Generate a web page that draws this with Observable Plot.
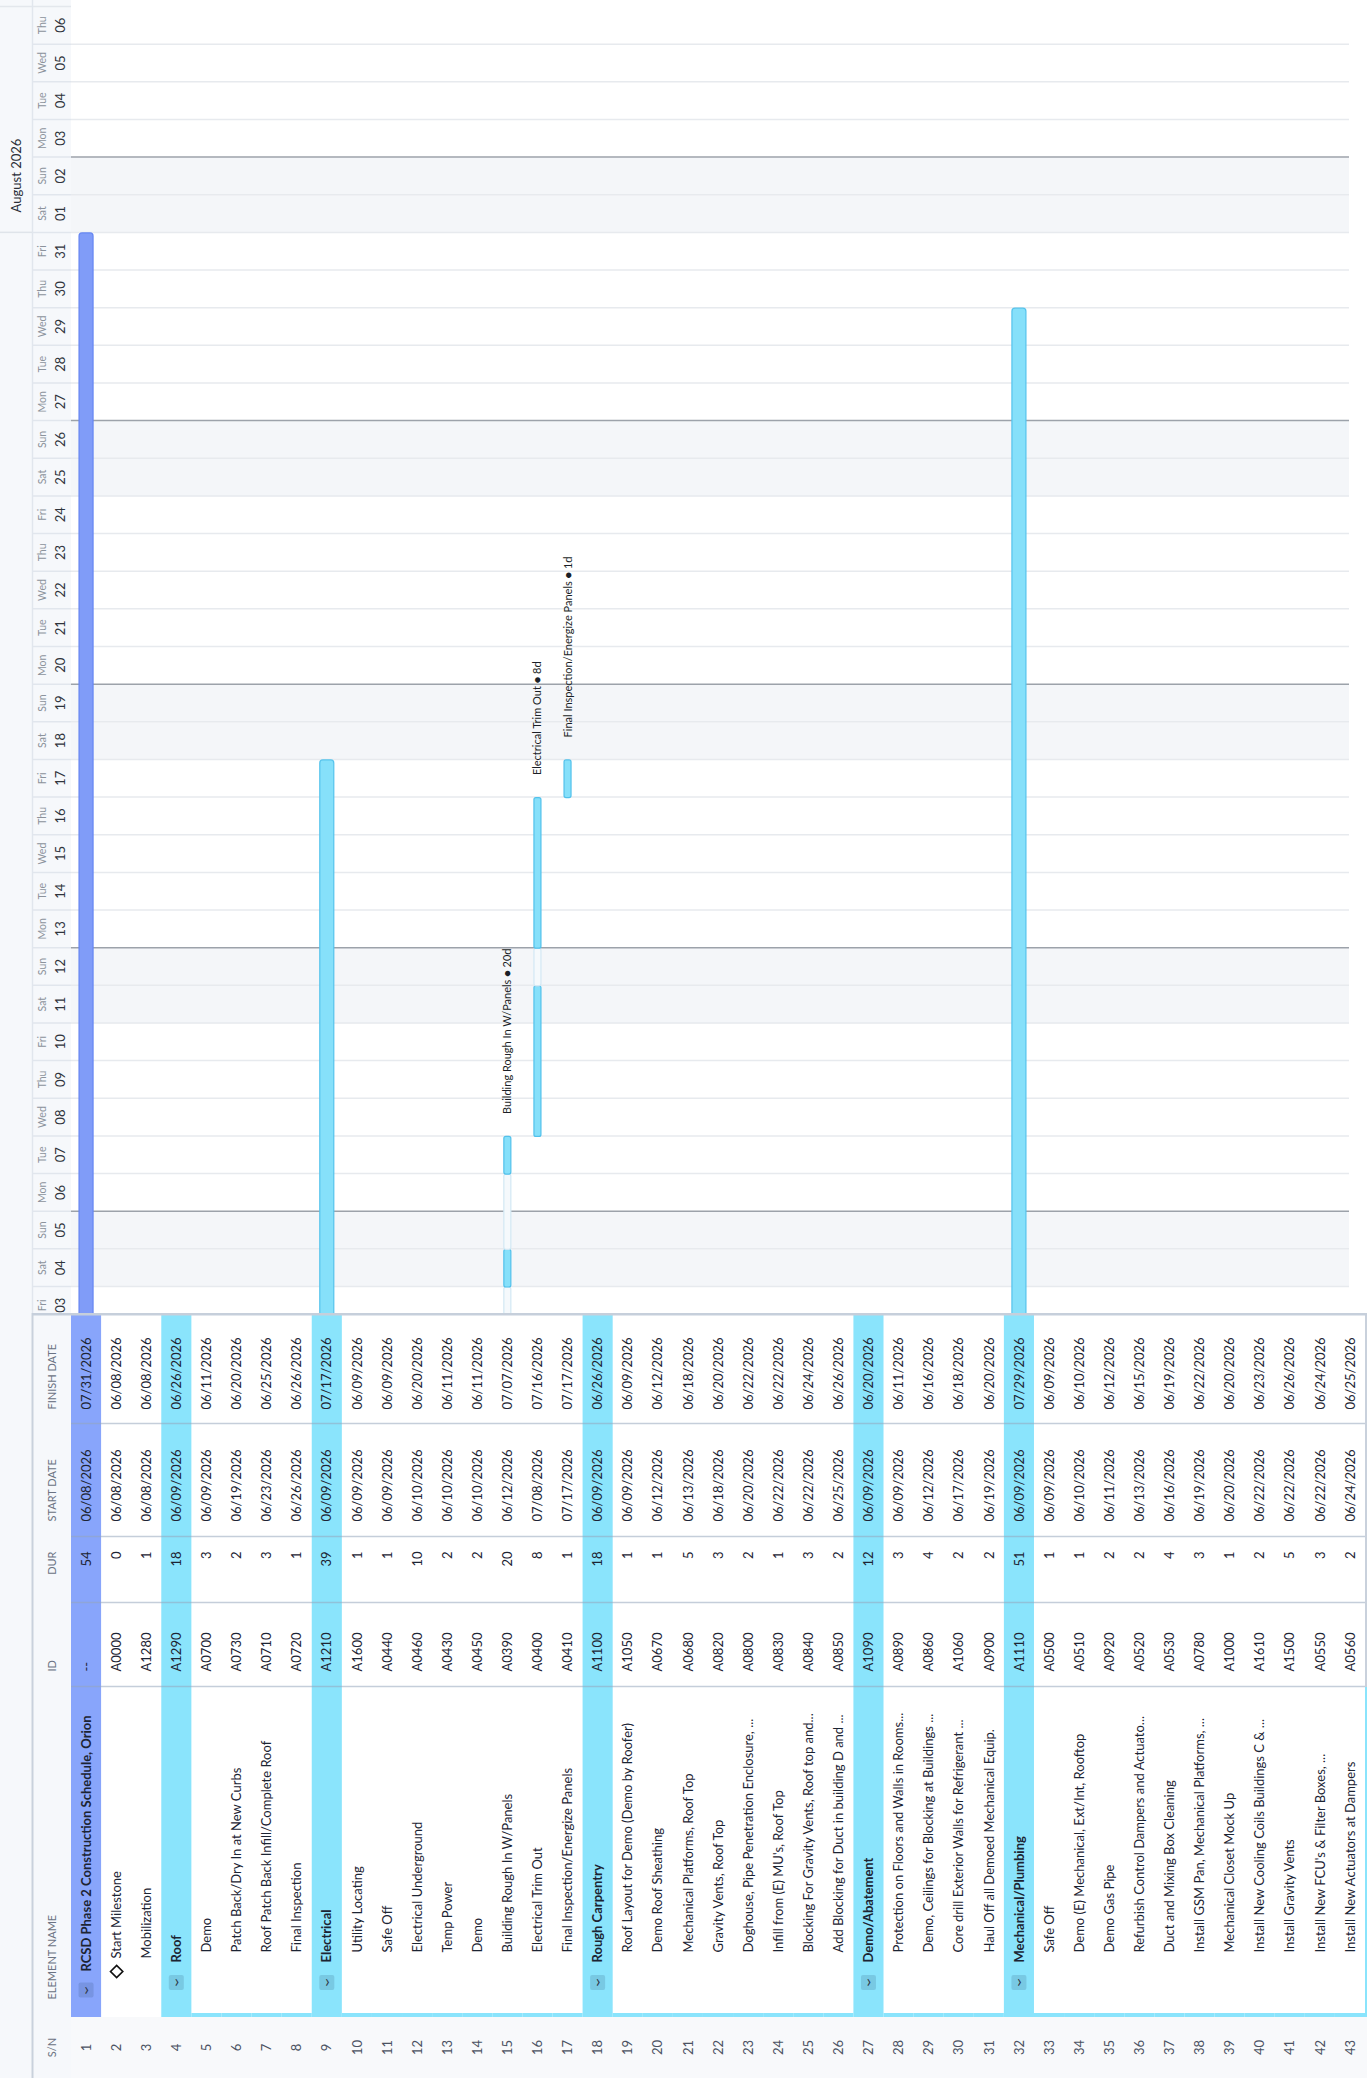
<!DOCTYPE html>
<html><head><meta charset="utf-8">
<script src="https://cdn.jsdelivr.net/npm/d3@7"></script>
<script src="https://cdn.jsdelivr.net/npm/@observablehq/plot@0.6"></script>
<style>
html,body{margin:0;padding:0;background:#fff;overflow:hidden;width:1367px;height:2078px;}
#stage{position:absolute;left:0;top:0;width:2078px;height:1367px;transform-origin:0 0;transform:translateY(2078px) rotate(-90deg);display:flex;font-family:Lato,sans-serif;}
#stage svg{display:block;flex:none;}
</style></head><body><div id="stage"></div>
<script>
// ---------------- data ----------------
const sn = d3.range(1, 44);
const names = [
  "RCSD Phase 2 Construction Schedule, Orion", "Start Milestone", "Mobilization",
  "Roof", "Demo", "Patch Back/Dry In at New Curbs", "Roof Patch Back Infill/Complete Roof", "Final Inspection",
  "Electrical", "Utility Locating", "Safe Off", "Electrical Underground", "Temp Power", "Demo",
  "Building Rough In W/Panels", "Electrical Trim Out", "Final Inspection/Energize Panels",
  "Rough Carpentry", "Roof Layout for Demo (Demo by Roofer)", "Demo Roof Sheathing", "Mechanical Platforms, Roof Top",
  "Gravity Vents, Roof Top", "Doghouse, Pipe Penetration Enclosure, ...", "Infill from (E) MU's, Roof Top",
  "Blocking For Gravity Vents, Roof top and...", "Add Blocking for Duct in building D and ...",
  "Demo/Abatement", "Protection on Floors and Walls in Rooms...", "Demo, Ceilings for Blocking at Buildings ...",
  "Core drill Exterior Walls for Refrigerant ...", "Haul Off all Demoed Mechanical Equip.",
  "Mechanical/Plumbing", "Safe Off", "Demo (E) Mechanical, Ext/Int, Rooftop", "Demo Gas Pipe",
  "Refurbish Control Dampers and Actuato...", "Duct and Mixing Box Cleaning", "Install GSM Pan, Mechanical Platforms, ...",
  "Mechanical Closet Mock Up", "Install New Cooling Coils Buildings C & ...", "Install Gravity Vents",
  "Install New FCU's & Filter Boxes, ...", "Install New Actuators at Dampers"
];
const ids = ["--","A0000","A1280","A1290","A0700","A0730","A0710","A0720","A1210","A1600","A0440","A0460","A0430","A0450","A0390","A0400","A0410","A1100","A1050","A0670","A0680","A0820","A0800","A0830","A0840","A0850","A1090","A0890","A0860","A1060","A0900","A1110","A0500","A0510","A0920","A0520","A0530","A0780","A1000","A1610","A1500","A0550","A0560"];
const durs = [54,0,1,18,3,2,3,1,39,1,1,10,2,2,20,8,1,18,1,1,5,3,2,1,3,2,12,3,4,2,2,51,1,1,2,2,4,3,1,2,5,3,2];
const starts = ["06/08/2026","06/08/2026","06/08/2026","06/09/2026","06/09/2026","06/19/2026","06/23/2026","06/26/2026","06/09/2026","06/09/2026","06/09/2026","06/10/2026","06/10/2026","06/10/2026","06/12/2026","07/08/2026","07/17/2026","06/09/2026","06/09/2026","06/12/2026","06/13/2026","06/18/2026","06/20/2026","06/22/2026","06/22/2026","06/25/2026","06/09/2026","06/09/2026","06/12/2026","06/17/2026","06/19/2026","06/09/2026","06/09/2026","06/10/2026","06/11/2026","06/13/2026","06/16/2026","06/19/2026","06/20/2026","06/22/2026","06/22/2026","06/22/2026","06/24/2026"];
const finishes = ["07/31/2026","06/08/2026","06/08/2026","06/26/2026","06/11/2026","06/20/2026","06/25/2026","06/26/2026","07/17/2026","06/09/2026","06/09/2026","06/20/2026","06/11/2026","06/11/2026","07/07/2026","07/16/2026","07/17/2026","06/26/2026","06/09/2026","06/12/2026","06/18/2026","06/20/2026","06/22/2026","06/22/2026","06/24/2026","06/26/2026","06/20/2026","06/11/2026","06/16/2026","06/18/2026","06/20/2026","07/29/2026","06/09/2026","06/10/2026","06/12/2026","06/15/2026","06/19/2026","06/22/2026","06/20/2026","06/23/2026","06/26/2026","06/24/2026","06/25/2026"];
// 0 = project, 1 = group, 2 = project task, 3 = group task
const levels = [0,2,2,1,3,3,3,3,1,3,3,3,3,3,3,3,3,1,3,3,3,3,3,3,3,3,1,3,3,3,3,1,3,3,3,3,3,3,3,3,3,3,3];
const offDays = ["2026-06-14","2026-06-21","2026-06-28","2026-07-03","2026-07-05","2026-07-06","2026-07-12","2026-07-19","2026-07-26","2026-08-02"];
const headers = ["S/N","ELEMENT NAME","ID","DUR","START DATE","FINISH DATE"];
const monthLabels = [{month: "2026-08-01", label: "August 2026"}];

// ---------------- layout ----------------
const W = 2078, H = 1367, TABLE_W = 765, HEADER_H = 71, MONTH_H = 32;
const N = sn.length, ROW_H = 1294 / N, DAY_W = 1280 / 34, DAY = 864e5;
const yDomain = [-HEADER_H / ROW_H, N];
const yRange = [0, HEADER_H + N * ROW_H];
const yPx = px => (px - HEADER_H) / ROW_H;
const BODY_END = yPx(1349);
const FONT = "Lato, 'Open Sans', sans-serif";
const ROOT_BG = "#88a5fb", GROUP_BG = "#8ae4fc";
const TEXT = "#1c2433";

const parse = s => { const [m, d, y] = s.split("/").map(Number); return new Date(Date.UTC(y, m - 1, d)); };
const rows = sn.map((n, i) => ({
  i, sn: n, name: names[i], id: ids[i], dur: durs[i],
  startStr: starts[i], finishStr: finishes[i],
  start: parse(starts[i]), finish: parse(finishes[i]), level: levels[i]
}));
const isGroup = r => r.level <= 1;

// ---------------- table ----------------
const col = {snMid: 30, nameStart: [106, 115, 119, 125], id: 406, durEnd: 526, start: 556, finish: 668, nameCol: 61, nameHead: 78};
const seps = [391, 475, 541, 654];
const headStart = [
  {t: headers[1], x: col.nameHead}, {t: headers[2], x: col.id},
  {t: headers[4], x: col.start}, {t: headers[5], x: col.finish}
];
const cy = r => r.i + 0.5;
const groupRows = rows.filter(isGroup);
const taskRows = rows.filter(r => !isGroup(r));
const groupChildren = rows.filter(r => r.level === 3);
const chevX = d => d.level === 0 ? 88 : 95.5;
const txt = {fontSize: 13, fill: TEXT, fontFamily: FONT};

const table = Plot.plot({
  width: TABLE_W, height: H, margin: 0,
  x: {type: "linear", domain: [0, TABLE_W], range: [0, TABLE_W], axis: null},
  y: {type: "linear", domain: yDomain, range: yRange, axis: null},
  style: {fontFamily: FONT, background: "#ffffff", maxWidth: "none", overflow: "visible"},
  marks: [
    Plot.rect([0], {x1: 0, x2: TABLE_W, y1: yDomain[0], y2: 0, fill: "#f6f8fb"}),
    Plot.rect([0], {x1: 0, x2: col.nameCol, y1: 0, y2: N + 0.1, fill: "#f8f9fb"}),
    Plot.rect(groupRows, {x1: col.nameCol, x2: TABLE_W, y1: d => d.i, y2: d => d.i + 1, fill: d => d.level === 0 ? ROOT_BG : GROUP_BG}),
    Plot.rect(groupChildren, {x1: col.nameCol, x2: col.nameCol + 4, y1: d => d.i, y2: d => d.i + 1, fill: GROUP_BG}),
    Plot.rect([0], {x1: col.nameCol, x2: seps[0], y1: N, y2: N + 2 / ROW_H, fill: GROUP_BG}),
    Plot.rect([0], {x1: seps[0], x2: TABLE_W, y1: N, y2: N + 2 / ROW_H, fill: "#c9d1dc"}),
    Plot.ruleX(seps, {x: d => d, y1: 0, y2: N, stroke: "rgba(150,166,188,0.55)", strokeWidth: 1.5}),
    Plot.ruleY([0], {y: yPx(MONTH_H), x1: 0, x2: TABLE_W, stroke: "#c9d1dc", strokeWidth: 2}),
    Plot.ruleX([0], {x: TABLE_W - 1.5, y1: yPx(MONTH_H), y2: N + 2 / ROW_H, stroke: "#c6cfdb", strokeWidth: 3}),
    // header labels
    Plot.text([headers[0]], {x: col.snMid, y: yPx(51.5), text: d => d, textAnchor: "middle", fontSize: 11, fill: "#6b7383", fontFamily: FONT}),
    Plot.text(headStart, {x: "x", y: yPx(51.5), text: "t", textAnchor: "start", fontSize: 11, fill: "#6b7383", fontFamily: FONT}),
    Plot.text([headers[3]], {x: col.durEnd, y: yPx(51.5), text: d => d, textAnchor: "end", fontSize: 11, fill: "#6b7383", fontFamily: FONT}),
    // chevron boxes
    Plot.rect(groupRows, {x1: d => chevX(d) - 7.5, x2: d => chevX(d) + 7.5,
      y1: d => cy(d) - 7.5 / ROW_H, y2: d => cy(d) + 7.5 / ROW_H, fill: "rgba(30,60,100,0.16)", rx: 2}),
    Plot.text(groupRows, {x: chevX, y: cy, text: () => "\u203A", rotate: 90, fontSize: 17, fill: "#2f3746", fontFamily: FONT}),
    // milestone diamond
    Plot.dot(rows.filter(d => d.dur === 0), {x: 106, y: cy, symbol: "diamond2", r: 5.5, stroke: "#111", strokeWidth: 1.7, fill: "none"}),
    // serial numbers
    Plot.text(rows, {x: col.snMid, y: cy, text: d => String(d.sn), textAnchor: "middle", fontSize: 13, fill: "#4b5262", fontFamily: FONT}),
    // names
    Plot.text(groupRows, {x: d => col.nameStart[d.level], y: cy, text: "name", textAnchor: "start", fontWeight: "bold", ...txt}),
    Plot.text(taskRows, {x: d => col.nameStart[d.level], y: cy, text: "name", textAnchor: "start", ...txt}),
    Plot.text(rows, {x: col.id, y: cy, text: "id", textAnchor: "start", ...txt}),
    Plot.text(rows, {x: col.durEnd, y: cy, text: d => String(d.dur), textAnchor: "end", ...txt}),
    Plot.text(rows, {x: col.start, y: cy, text: "startStr", textAnchor: "start", ...txt}),
    Plot.text(rows, {x: col.finish, y: cy, text: "finishStr", textAnchor: "start", ...txt})
  ]
});

// ---------------- timeline ----------------
const TL_W = W - TABLE_W, TL_R = TL_W - 7;
const t1 = new Date(Date.UTC(2026, 7, 7));
const t0 = new Date(+t1 - TL_R / DAY_W * DAY);
const tEnd = new Date(+t1 + 7 / DAY_W * DAY);
const days = d3.utcDay.range(d3.utcDay.floor(t0), t1);
const weekends = days.filter(d => d.getUTCDay() === 0 || d.getUTCDay() === 6);
const mondays = days.filter(d => d.getUTCDay() === 1);
const others = days.filter(d => d.getUTCDay() !== 1);
const offSet = new Set(offDays);
const iso = d3.utcFormat("%Y-%m-%d");
const next = d => new Date(+d + DAY);

// bar segments for leaf tasks (working / non-working days)
const leafSegs = [];
for (const r of rows) {
  if (isGroup(r) || r.dur === 0) continue;
  let cur = null;
  for (let d = r.start; d <= r.finish; d = next(d)) {
    const work = !offSet.has(iso(d));
    if (cur && cur.work === work) cur.x2 = next(d);
    else { cur = {row: r, work, x1: d, x2: next(d)}; leafSegs.push(cur); }
  }
}
const visible = leafSegs.filter(s => s.x2 > t0);
// labels only for tasks whose end lies in the visible time window
const labelled = rows.filter(r => !isGroup(r) && r.dur > 0 && next(r.finish) > t0);
const half = (r) => (r.level <= 1 ? 7 : 3.5) / ROW_H;

const timeline = Plot.plot({
  width: TL_W, height: H, margin: 0,
  x: {type: "utc", domain: [t0, t1], range: [0, TL_R], axis: null},
  y: {type: "linear", domain: yDomain, range: yRange, axis: null},
  style: {fontFamily: FONT, background: "#ffffff", maxWidth: "none", overflow: "hidden"},
  marks: [
    Plot.rect([0], {x1: t0, x2: tEnd, y1: yDomain[0], y2: 0, fill: "#f6f8fb"}),
    Plot.rect(weekends, {x1: d => d, x2: next, y1: 0, y2: BODY_END, fill: "#f4f6f9"}),
    Plot.ruleX(others, {x: d => d, y1: 0, y2: BODY_END, stroke: "#e7eaee", strokeWidth: 1.5}),
    Plot.ruleX(mondays, {x: d => d, y1: 0, y2: BODY_END, stroke: "#9ca2aa", strokeWidth: 1.5}),
    Plot.ruleX([t1], {x: d => d, y1: yDomain[0], y2: 0, stroke: "#e3e7ec", strokeWidth: 1.5}),
    // header grid
    Plot.ruleX(days, {x: d => d, y1: yPx(MONTH_H), y2: 0, stroke: "#e1e6ed", strokeWidth: 1.5}),
    Plot.ruleY([0], {y: yPx(MONTH_H), x1: t0, x2: tEnd, stroke: "#e1e6ed", strokeWidth: 1.5}),
    Plot.ruleX(monthLabels, {x: d => new Date(d.month), y1: yDomain[0], y2: yPx(MONTH_H), stroke: "#dfe4ea", strokeWidth: 1.5}),
    Plot.text(monthLabels, {x: d => new Date(d.month), y: yPx(16), text: "label", dx: 20, textAnchor: "start", fontSize: 13, fill: "#2a2f38", fontFamily: FONT}),
    Plot.text(days, {x: d => new Date(+d + DAY / 2), y: yPx(42), text: d3.utcFormat("%a"), fontSize: 10.5, fill: "#8c939c", fontFamily: FONT}),
    Plot.text(days, {x: d => new Date(+d + DAY / 2), y: yPx(60), text: d3.utcFormat("%d"), fontSize: 13, fill: "#2f343c", fontFamily: FONT}),
    // summary bars
    Plot.rect(rows.filter(isGroup), {x1: "start", x2: d => next(d.finish), y1: d => cy(d) - half(d), y2: d => cy(d) + half(d),
      fill: d => d.level === 0 ? "#809cf8" : "#86e0fa", stroke: d => d.level === 0 ? "#6586f2" : "#55c3ec", strokeWidth: 1.2, rx: 3, clip: true}),
    // task bars
    Plot.rect(visible, {x1: "x1", x2: "x2", y1: d => cy(d.row) - half(d.row), y2: d => cy(d.row) + half(d.row),
      fill: d => d.work ? "#86e0fa" : "#f5f9fc", stroke: d => d.work ? "#52c1eb" : "#d3e8f4", strokeWidth: 1.2, rx: 2, clip: true}),
    Plot.text(labelled, {x: d => next(d.finish), y: cy, dx: 22, text: d => `${d.name} \u25CF ${d.dur}d`, textAnchor: "start",
      fontSize: 11, fill: "#1b1f27", fontFamily: FONT})
  ]
});

const stage = document.getElementById("stage");
stage.append(table, timeline);
</script>
</body></html>
